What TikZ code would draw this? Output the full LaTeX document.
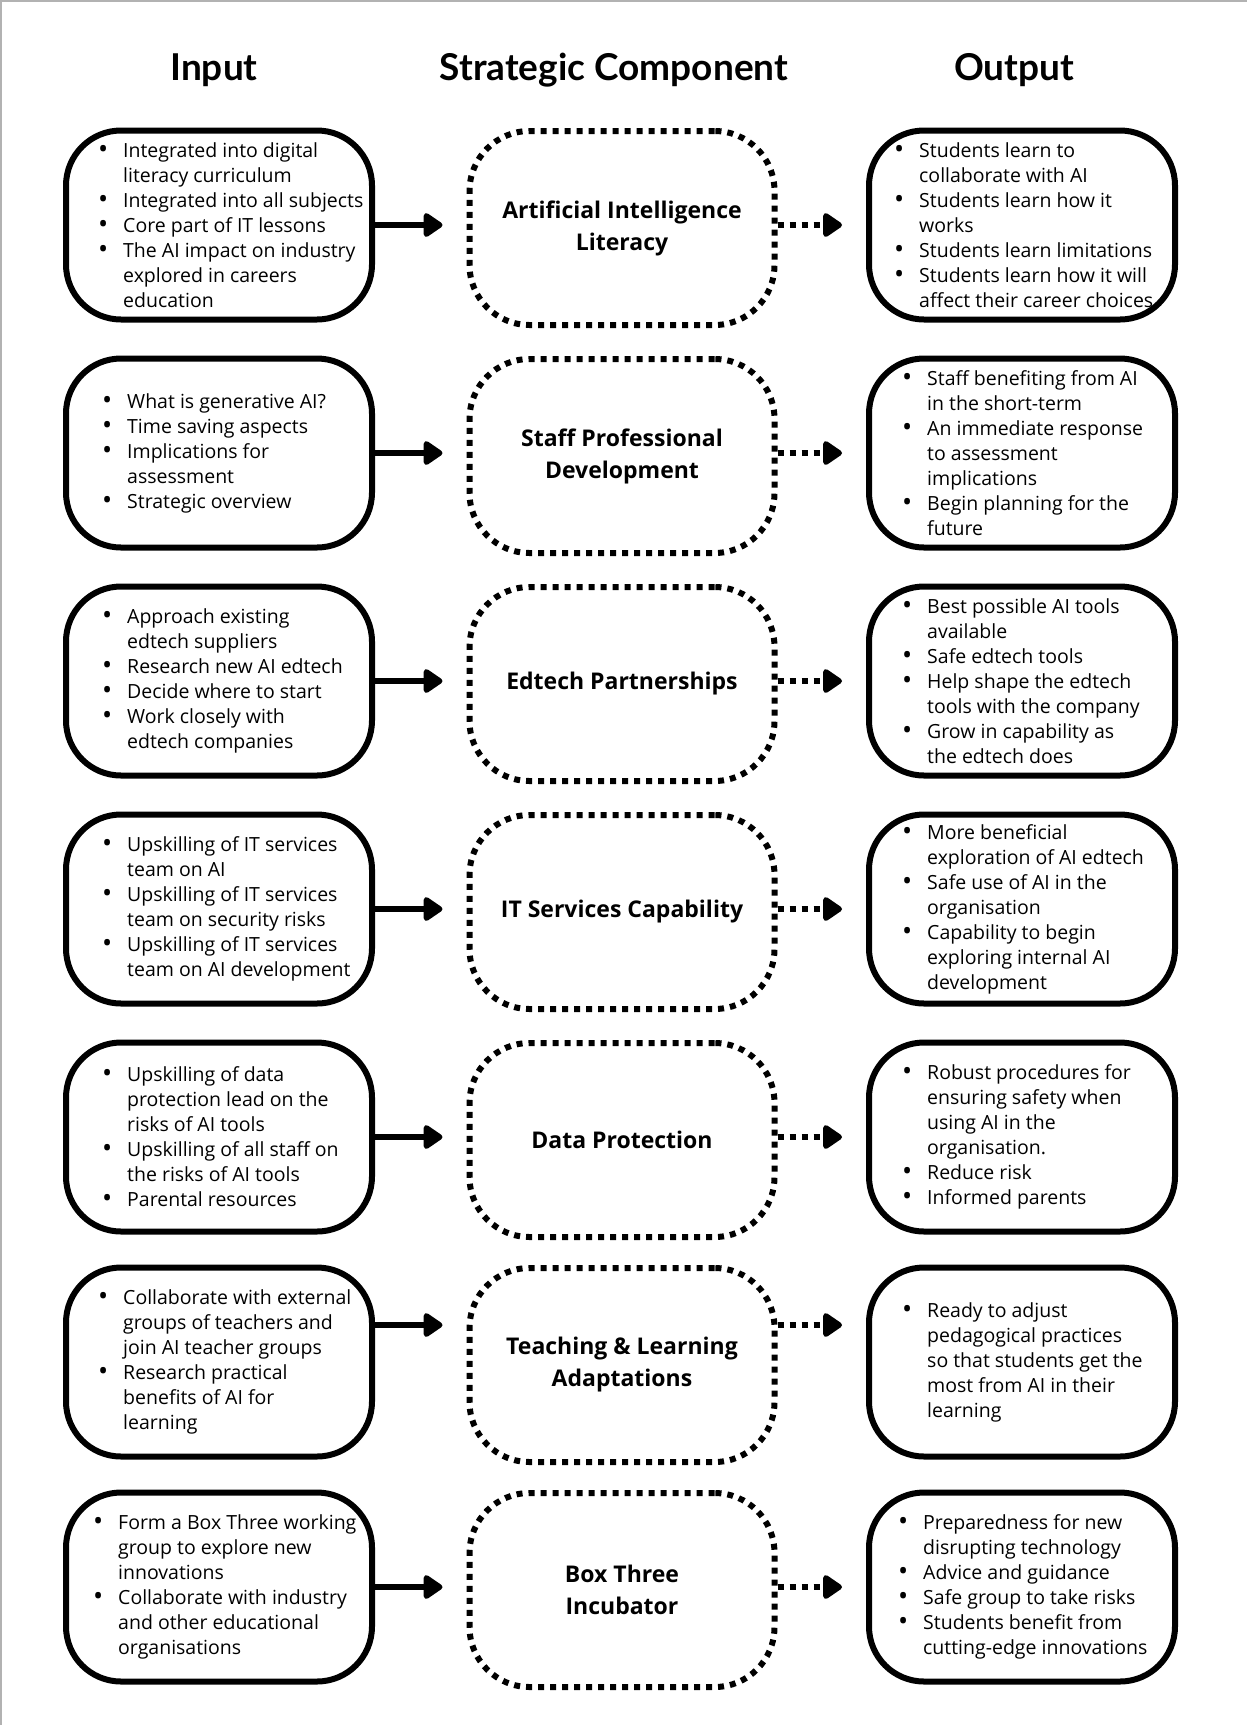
\documentclass[tikz,border=0pt]{standalone}
\usepackage{fontspec}
\setmainfont{Open Sans}
\newfontfamily\headfont{Lato}
\usetikzlibrary{arrows.meta,positioning}

\newcommand{\itm}{\makebox[25pt][l]{{\fontsize{27}{25}\selectfont\raisebox{-1pt}{\textbullet}}}}
\newcommand{\cnt}{\hspace*{25pt}}

\begin{document}
\begin{tikzpicture}[x=1pt,y=-1pt]
    \tikzset{
        sidebox/.style={draw, line width=6pt, rounded corners=55pt, minimum width=306pt, minimum height=189pt},
        midbox/.style={draw, line width=6pt, dash pattern=on 6pt off 6pt, rounded corners=60pt,
            minimum width=305pt, minimum height=194pt, align=center,
            font=\fontsize{23}{32}\selectfont\bfseries},
        bullets/.style={anchor=west, align=left, inner sep=0pt, font=\fontsize{19.5}{25}\selectfont},
        colhead/.style={font=\headfont\fontsize{37}{40}\selectfont\bfseries},
        feed/.style={line width=6pt, -{Triangle[length=21pt,width=27pt,round]}, shorten >=24pt},
        dotfeed/.style={feed, dash pattern=on 6pt off 6pt},
    }
    \useasboundingbox (0,0) rectangle (1247,1725);
    \draw[black!30, line width=2pt] (1,1725) -- (1,1) -- (1247,1);

    % column heads
    \node[colhead] (hin) at (214,70) {Input};
    \node[colhead] (hmid) at (614,70) {Strategic Component};
    \node[colhead] (hout) at (1014,70) {Output};

    % row 1
    \node[sidebox] (in1) at (219,225) {};
    \node[midbox] (mid1) at (622,228) {Artificial Intelligence\\Literacy};
    \node[sidebox] (out1) at (1022,225) {};
    \node[bullets, right=35pt of in1.west] (tin1) {\itm Integrated into digital\\\cnt literacy curriculum\\\itm Integrated into all subjects\\\itm Core part of IT lessons\\\itm The AI impact on industry\\\cnt explored in careers\\\cnt education};
    \node[bullets, right=28pt of out1.west] (tout1) {\itm Students learn to\\\cnt collaborate with AI\\\itm Students learn how it\\\cnt works\\\itm Students learn limitations\\\itm Students learn how it will\\\cnt affect their career choices};
    \draw[feed] (in1.east) -- (mid1.west |- in1.east);
    \draw[dotfeed] (mid1.east |- out1.west) -- (out1.west);

    % row 2
    \node[sidebox] (in2) at (219,453) {};
    \node[midbox] (mid2) at (622,456) {Staff Professional\\Development};
    \node[sidebox] (out2) at (1022,453) {};
    \node[bullets, right=39pt of in2.west] (tin2) {\itm What is generative AI?\\\itm Time saving aspects\\\itm Implications for\\\cnt assessment\\\itm Strategic overview};
    \node[bullets, right=36pt of out2.west] (tout2) {\itm Staff benefiting from AI\\\cnt in the short-term\\\itm An immediate response\\\cnt to assessment\\\cnt implications\\\itm Begin planning for the\\\cnt future};
    \draw[feed] (in2.east) -- (mid2.west |- in2.east);
    \draw[dotfeed] (mid2.east |- out2.west) -- (out2.west);

    % row 3
    \node[sidebox] (in3) at (219,681) {};
    \node[midbox] (mid3) at (622,684) {Edtech Partnerships};
    \node[sidebox] (out3) at (1022,681) {};
    \node[bullets, right=39pt of in3.west] (tin3) {\itm Approach existing\\\cnt edtech suppliers\\\itm Research new AI edtech\\\itm Decide where to start\\\itm Work closely with\\\cnt edtech companies};
    \node[bullets, right=36pt of out3.west] (tout3) {\itm Best possible AI tools\\\cnt available\\\itm Safe edtech tools\\\itm Help shape the edtech\\\cnt tools with the company\\\itm Grow in capability as\\\cnt the edtech does};
    \draw[feed] (in3.east) -- (mid3.west |- in3.east);
    \draw[dotfeed] (mid3.east |- out3.west) -- (out3.west);

    % row 4
    \node[sidebox] (in4) at (219,909) {};
    \node[midbox] (mid4) at (622,912) {IT Services Capability};
    \node[sidebox] (out4) at (1022,909) {};
    \node[bullets, right=39pt of in4.west] (tin4) {\itm Upskilling of IT services\\\cnt team on AI\\\itm Upskilling of IT services\\\cnt team on security risks\\\itm Upskilling of IT services\\\cnt team on AI development};
    \node[bullets, right=36pt of out4.west] (tout4) {\itm More beneficial\\\cnt exploration of AI edtech\\\itm Safe use of AI in the\\\cnt organisation\\\itm Capability to begin\\\cnt exploring internal AI\\\cnt development};
    \draw[feed] (in4.east) -- (mid4.west |- in4.east);
    \draw[dotfeed] (mid4.east |- out4.west) -- (out4.west);

    % row 5
    \node[sidebox] (in5) at (219,1137) {};
    \node[midbox] (mid5) at (622,1140) {Data Protection};
    \node[sidebox] (out5) at (1022,1137) {};
    \node[bullets, right=39pt of in5.west] (tin5) {\itm Upskilling of data\\\cnt protection lead on the\\\cnt risks of AI tools\\\itm Upskilling of all staff on\\\cnt the risks of AI tools\\\itm Parental resources};
    \node[bullets, right=36pt of out5.west] (tout5) {\itm Robust procedures for\\\cnt ensuring safety when\\\cnt using AI in the\\\cnt organisation.\\\itm Reduce risk\\\itm Informed parents};
    \draw[feed] (in5.east) -- (mid5.west |- in5.east);
    \draw[dotfeed] (mid5.east |- out5.west) -- (out5.west);

    % row 6, arrows sit high
    \coordinate (lvl6) at (0,1325);
    \node[sidebox] (in6) at (219,1362) {};
    \node[midbox] (mid6) at (622,1365) {Teaching \& Learning\\Adaptations};
    \node[sidebox] (out6) at (1022,1362) {};
    \node[bullets, right=35pt of in6.west] (tin6) {\itm Collaborate with external\\\cnt groups of teachers and\\\cnt join AI teacher groups\\\itm Research practical\\\cnt benefits of AI for\\\cnt learning};
    \node[bullets, right=36pt of out6.west] (tout6) {\itm Ready to adjust\\\cnt pedagogical practices\\\cnt so that students get the\\\cnt most from AI in their\\\cnt learning};
    \draw[feed] (in6.east |- lvl6) -- (mid6.west |- lvl6);
    \draw[dotfeed] (mid6.east |- lvl6) -- (out6.west |- lvl6);

    % row 7
    \node[sidebox] (in7) at (219,1587) {};
    \node[midbox] (mid7) at (622,1590) {Box Three\\Incubator};
    \node[sidebox] (out7) at (1022,1587) {};
    \node[bullets, right=30pt of in7.west] (tin7) {\itm Form a Box Three working\\\cnt group to explore new\\\cnt innovations\\\itm Collaborate with industry\\\cnt and other educational\\\cnt organisations};
    \node[bullets, right=32pt of out7.west] (tout7) {\itm Preparedness for new\\\cnt disrupting technology\\\itm Advice and guidance\\\itm Safe group to take risks\\\itm Students benefit from\\\cnt cutting-edge innovations};
    \draw[feed] (in7.east) -- (mid7.west |- in7.east);
    \draw[dotfeed] (mid7.east |- out7.west) -- (out7.west);
\end{tikzpicture}
\end{document}
